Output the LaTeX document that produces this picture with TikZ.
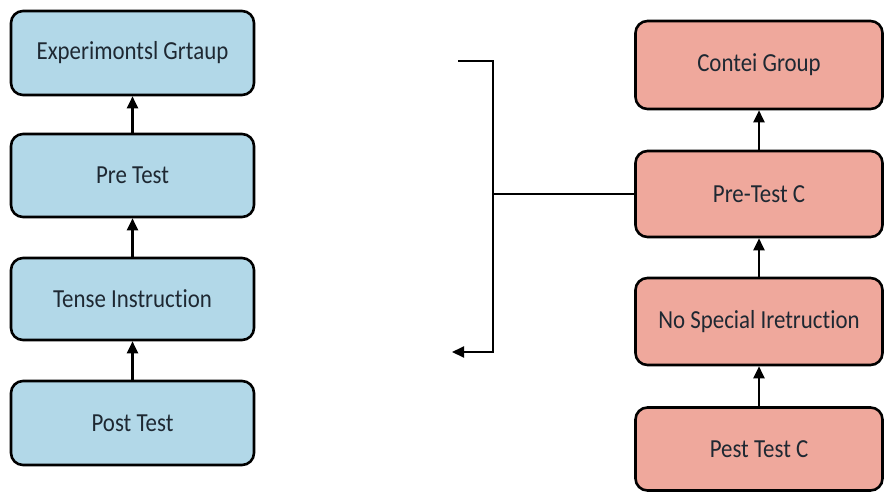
\documentclass[tikz,border=0pt]{standalone}
\usepackage{fontspec}
\setmainfont[FakeStretch=0.88,Ligatures={NoCommon,NoRare}]{Carlito}
\usetikzlibrary{arrows.meta}
\definecolor{boxblue}{RGB}{178,216,232}
\definecolor{boxred}{RGB}{239,168,156}
\definecolor{txt}{RGB}{30,40,50}
\tikzset{
  grpbox/.style={draw=black, line width=2.6pt, rounded corners=12pt, text=txt,
    font=\fontsize{26}{30}\selectfont, inner sep=0pt},
  bluebox/.style={grpbox, fill=boxblue, minimum width=243pt},
  redbox/.style={grpbox, fill=boxred, minimum width=247pt},
  uparr/.style={line width=2.2pt, -{Triangle[length=12pt,width=11pt]}}
}

\begin{document}
\begin{tikzpicture}[x=1pt,y=-1pt]
\useasboundingbox (0,0) rectangle (885,493);
% experimental group
\node (exp)   [bluebox, minimum height=84pt] at (132.5,53)  {Experimontsl Grtaup};
\node (pre)   [bluebox, minimum height=83pt] at (132.5,175.5) {Pre Test};
\node (tense) [bluebox, minimum height=82pt] at (132.5,299) {Tense Instruction};
\node (post)  [bluebox, minimum height=84pt] at (132.5,423) {Post Test};
\draw [uparr] (pre) -- (exp);
\draw [uparr] (tense) -- (pre);
\draw [uparr] (post) -- (tense);
% control group
\node (ctrl)   [redbox, minimum height=88pt] at (759,65)    {Contei Group};
\node (prec)   [redbox, minimum height=86pt] at (759,194)   {Pre-Test C};
\node (nospec) [redbox, minimum height=87pt] at (759,321.5) {No Special Iretruction};
\node (postc)  [redbox, minimum height=83pt] at (759,449)   {Pest Test C};
\draw [uparr] (prec) -- (ctrl);
\draw [uparr] (nospec) -- (prec);
\draw [uparr] (postc) -- (nospec);
% bracket
\coordinate (btop) at (458,61);
\coordinate (bmid) at (493,194);
\coordinate (bend) at (452,352);
\draw [line width=2pt] (btop) -| (bmid) -- (prec.west);
\draw [line width=2pt, -{Triangle[length=12pt,width=11pt]}] (bmid) |- (bend);
\end{tikzpicture}
\end{document}
